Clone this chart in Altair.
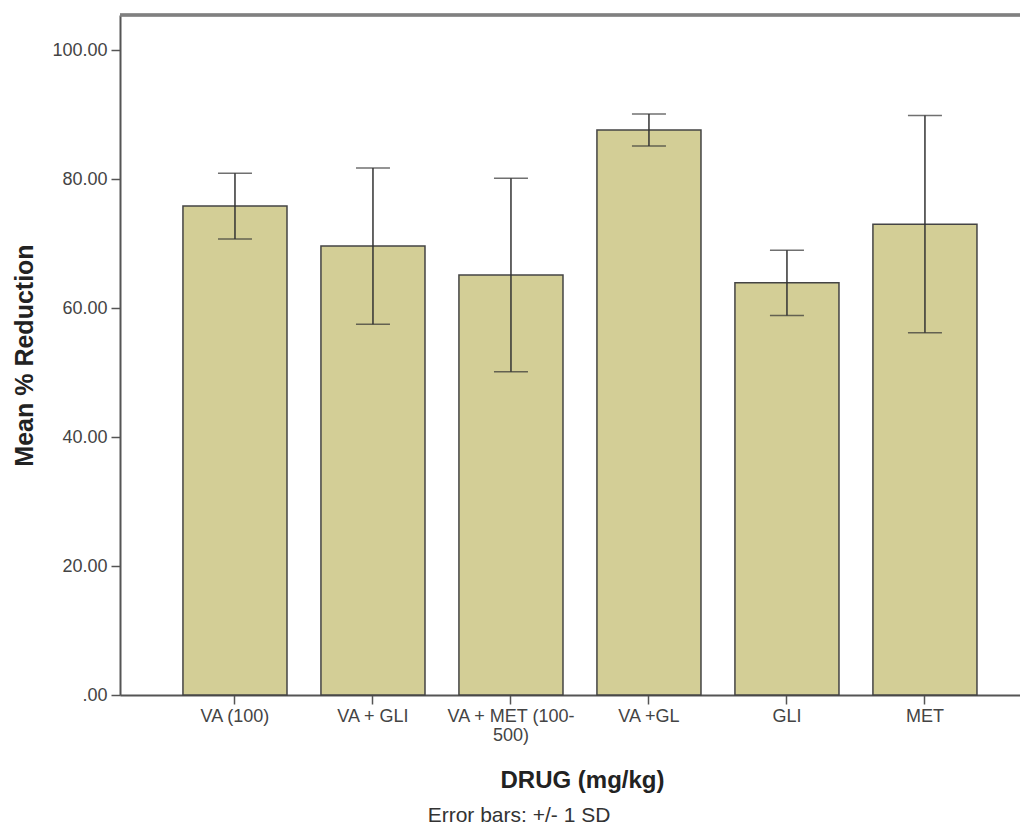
import altair as alt
import pandas as pd

drugs = ["VA (100)", "VA + GLI", "VA + MET (100-500)", "VA +GL", "GLI", "MET"]
means = [75.8, 69.6, 65.1, 87.6, 63.9, 73.0]
sds = [5.1, 12.1, 15.0, 2.5, 5.05, 16.85]
y_ticks = [0, 20, 40, 60, 80, 100]

df = pd.DataFrame({"drug": drugs, "mean": means, "sd": sds})

FONT = "Liberation Sans"
W = 900

x_enc = alt.X(
    "drug:N",
    sort=drugs,
    scale=alt.Scale(paddingInner=0.246, paddingOuter=0.384, align=0.594),
    axis=alt.Axis(
        title="DRUG (mg/kg)",
        labelAngle=0,
        labelFontSize=18,
        labelFont=FONT,
        labelColor="#444444",
        labelPadding=3,
        labelLineHeight=19,
        labelExpr="datum.label == 'VA + MET (100-500)' ? ['VA + MET (100-', '500)'] : datum.label",
        tickSize=9,
        tickColor="#555555",
        tickWidth=1.5,
        domainColor="#555555",
        domainWidth=2,
        titleFont=FONT,
        titleFontSize=24,
        titleFontWeight="bold",
        titleColor="#222222",
        titleX=462,
        titleY=92,
        titleBaseline="alphabetic",
        titleAnchor="start",
        titleAlign="center",
    ),
)

y_scale = alt.Scale(domain=[0, 105.43], nice=False, zero=True)

bars = alt.Chart(df).mark_bar(
    color="#d3ce96", stroke="#444444", strokeWidth=1.5
).encode(
    x=x_enc,
    y=alt.Y(
        "mean:Q",
        scale=y_scale,
        axis=alt.Axis(
            title="Mean % Reduction",
            values=y_ticks,
            labelExpr="datum.value == 0 ? '.00' : format(datum.value, '.2f')",
            labelFontSize=18,
            labelFont=FONT,
            labelColor="#444444",
            labelPadding=4,
            tickSize=9,
            tickColor="#555555",
            tickWidth=1.5,
            domainColor="#555555",
            domainWidth=2,
            grid=False,
            titleFont=FONT,
            titleFontSize=25,
            titleFontWeight="bold",
            titleColor="#222222",
            titleAngle=-90,
            titleX=-88,
            titleY=340,
            titleBaseline="alphabetic",
            titleAlign="center",
            titleAnchor="start",
        ),
    ),
)

err_base = alt.Chart(df).transform_calculate(
    lo="datum.mean - datum.sd", hi="datum.mean + datum.sd"
)

err_rule = err_base.mark_rule(color="#333333", strokeWidth=1.5).encode(
    x=alt.X("drug:N", sort=drugs),
    y=alt.Y("lo:Q", scale=y_scale),
    y2="hi:Q",
)
cap_lo = err_base.mark_tick(color="#333333", thickness=1.5, size=34, orient="horizontal").encode(
    x=alt.X("drug:N", sort=drugs),
    y=alt.Y("lo:Q", scale=y_scale),
)
cap_hi = err_base.mark_tick(color="#333333", thickness=1.5, size=34, orient="horizontal").encode(
    x=alt.X("drug:N", sort=drugs),
    y=alt.Y("hi:Q", scale=y_scale),
)

top_border = alt.Chart(df).mark_rule(color="#808080", strokeWidth=2.5).encode(
    x=alt.value(0), x2=alt.value(W), y=alt.value(0)
)

chart = alt.layer(bars, err_rule, cap_lo, cap_hi, top_border).properties(
    width=W,
    height=680,
    autosize=alt.AutoSizeParams(type="none"),
    padding={"left": 112, "top": 7, "right": 0, "bottom": 130},
    title=alt.TitleParams(
        "Error bars: +/- 1 SD",
        orient="bottom",
        anchor="middle",
        dx=-51,
        offset=13,
        fontSize=21,
        fontWeight="normal",
        font=FONT,
        color="#333333",
    ),
).configure_view(
    fill="#f0f0f0", stroke=None
).configure(background="white")

chart.save("out.html", embed_options={"renderer": "svg", "actions": False})
